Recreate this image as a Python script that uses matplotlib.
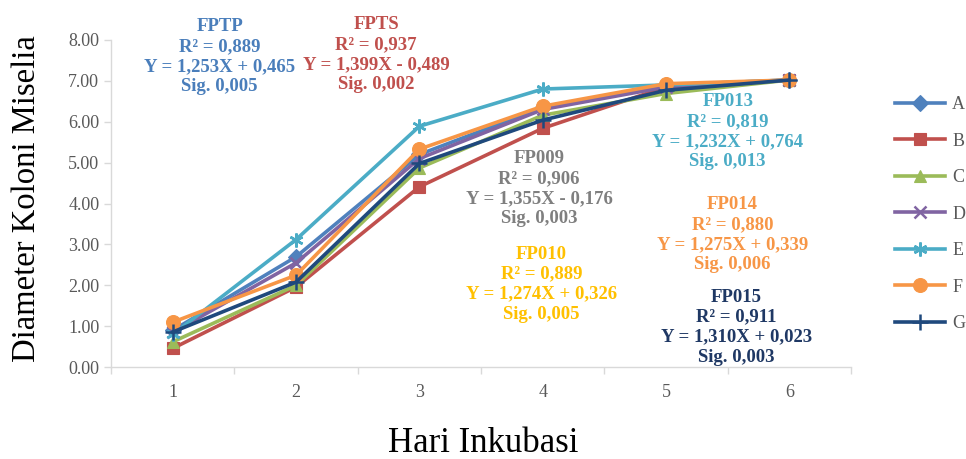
import numpy as np
import matplotlib.pyplot as plt
from matplotlib.ticker import FixedLocator

plt.rcParams['font.family'] = ['Liberation Serif', 'DejaVu Serif']

days = [1, 2, 3, 4, 5, 6]
series_names = ['A', 'B', 'C', 'D', 'E', 'F', 'G']
A = [0.90, 2.70, 5.20, 6.35, 6.90, 7.02]
B = [0.46, 1.96, 4.41, 5.84, 6.85, 7.02]
C = [0.62, 2.00, 4.87, 6.16, 6.69, 7.02]
D = [0.85, 2.55, 5.10, 6.30, 6.85, 7.02]
E = [0.80, 3.12, 5.89, 6.80, 6.90, 7.02]
F = [1.10, 2.25, 5.33, 6.38, 6.93, 7.02]
G = [0.86, 2.08, 4.98, 6.04, 6.77, 7.02]
all_series = [A, B, C, D, E, F, G]

colors = ['#4F81BD', '#C0504D', '#9BBB59', '#8064A2', '#4BACC6', '#F79646', '#1F497D']
markers = ['D', 's', '^', 'x', (6, 2, 0), 'o', '+']
msizes = [8, 9, 9, 8, 10, 10, 12]

# regression annotation blocks: (title, r2, equation, sig, colour, x, y)
notes = [
    ('FPTP', '0,889', 'Y = 1,253X + 0,465', '0,005', '#4A7EBB', 1.38, 8.53),
    ('FPTS', '0,937', 'Y = 1,399X - 0,489', '0,002', '#C0504D', 2.65, 8.58),
    ('FP009', '0,906', 'Y = 1,355X - 0,176', '0,003', '#7F7F7F', 3.97, 5.3),
    ('FP010', '0,889', 'Y = 1,274X + 0,326', '0,005', '#FFC000', 3.99, 2.97),
    ('FP013', '0,819', 'Y = 1,232X + 0,764', '0,013', '#4BACC6', 5.5, 6.7),
    ('FP014', '0,880', 'Y = 1,275X + 0,339', '0,006', '#F79646', 5.54, 4.18),
    ('FP015', '0,911', 'Y = 1,310X + 0,023', '0,003', '#1F3864', 5.57, 1.92),
]

fig = plt.figure(figsize=(9.66, 4.59), dpi=100)
ax = fig.add_axes([0.115, 0.2, 0.766, 0.713])

for name, vals, c, m, ms in zip(series_names, all_series, colors, markers, msizes):
    ax.plot(days, vals, color=c, lw=2.6, marker=m, markersize=ms,
            markeredgewidth=1.8 if m in ('x', '+') or isinstance(m, tuple) else 0.8,
            markeredgecolor=c, label=name)

ax.set_xlim(0.5, 6.5)
ax.set_ylim(0, 8)
ax.set_yticks(np.arange(0, 8.01, 1))
ax.set_yticklabels([f'{v:.2f}' for v in np.arange(0, 8.01, 1)])
ax.set_xticks(days)
ax.xaxis.set_minor_locator(FixedLocator(np.arange(0.5, 6.6, 1)))
ax.tick_params(axis='x', which='major', length=0, pad=12, labelsize=13, labelcolor='#595959')
ax.tick_params(axis='x', which='minor', length=5, color='#D9D9D9', width=1)
ax.tick_params(axis='y', length=5, color='#D9D9D9', width=1, labelsize=13, labelcolor='#595959')
for s in ['top', 'right']:
    ax.spines[s].set_visible(False)
for s in ['left', 'bottom']:
    ax.spines[s].set_color('#D9D9D9')
    ax.spines[s].set_linewidth(1)

ax.set_ylabel('Diameter Koloni Miselia', fontsize=23.5)
ax.set_xlabel('Hari Inkubasi', fontsize=25)
ax.yaxis.set_label_coords(-0.093, 0.514)
ax.xaxis.set_label_coords(0.503, -0.183)

for title, r2, eq, sig, c, x, y in notes:
    txt = f'{title}\nR\u00b2 = {r2}\n{eq}\nSig. {sig}'
    ax.text(x, y, txt, color=c, fontsize=13.5, fontweight='bold', ha='center', va='top',
            linespacing=1.23, clip_on=False)

leg = ax.legend(loc='upper left', bbox_to_anchor=(1.049, 0.85), frameon=False,
                fontsize=13, labelspacing=1.08, handlelength=2.8, handletextpad=0.4,
                borderaxespad=0, labelcolor='#595959')

fig.savefig('out.png', dpi=100)
